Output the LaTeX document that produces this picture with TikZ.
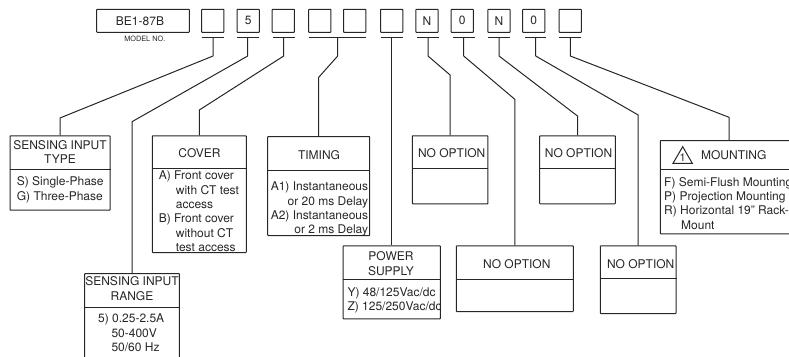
\documentclass[tikz,border=0pt]{standalone}
\usepackage{fontspec}
\setmainfont{TeX Gyre Heros}[Ligatures=ResetAll]
\colorlet{ink}{black!85}
\tikzset{
  box/.style={draw=ink,line width=1pt,rectangle,inner sep=0pt,anchor=north,rounded corners=0.6pt},
  slot/.style={box,anchor=center,minimum width=22.3pt,minimum height=23pt,font=\fontsize{12}{14.4}\selectfont,text=ink},
  bar/.style={fill=ink,rectangle,inner sep=0pt,minimum height=1pt},
  link/.style={draw=ink,line width=1pt,line join=round},
  divider/.style={draw=ink,line width=1pt},
  txt/.style={inner sep=0pt,text=ink,font=\fontsize{12}{14.4}\selectfont},
  hd/.style={txt,align=center,anchor=north},
  bl/.style={txt,align=left,anchor=north west},
  br/.style={txt,align=right,anchor=north east},
}
\begin{document}
\begin{tikzpicture}[x=1pt,y=-1pt]
\useasboundingbox (0,0) rectangle (789,356);

% model number
\node[slot,minimum width=92.6pt] (model) at (143,20.8) {};
\node[txt] (modeltxt) at (140,20.8) {BE1-87B};
\node[txt,font=\fontsize{7.3}{9}\selectfont] (modellbl) at (144.8,39.3) {MODEL NO.};

% slots
\node[slot] (s1) at (212.8,20.8) {};
\node[slot] (s2) at (248.2,20.8) {5};
\node[slot] (s3) at (283.3,20.8) {};
\node[slot] (s4) at (319.8,20.8) {};
\node[slot] (s5) at (354.7,20.8) {};
\node[slot] (s6) at (391.7,20.8) {};
\node[slot] (s7) at (427,20.8) {N};
\node[slot] (s8) at (462.2,20.8) {0};
\node[slot] (s9) at (499,20.8) {N};
\node[slot] (s10) at (533.7,20.8) {0};
\node[slot] (s11) at (570.2,20.8) {};

% bars
\node[bar,minimum width=22.3pt] (u1) at (213,37.7) {};
\node[bar,minimum width=22.3pt] (u2) at (247.7,37.7) {};
\node[bar,minimum width=22.3pt] (u3) at (283.7,37.7) {};
\node[bar,minimum width=56.7pt] (u4) at (337.7,37.7) {};
\node[bar,minimum width=22.3pt] (u5) at (391.7,37.7) {};
\node[bar,minimum width=22pt] (u6) at (428,37.7) {};
\node[bar,minimum width=22pt] (u7) at (463.7,37.7) {};
\node[bar,minimum width=22pt] (u8) at (499,37.7) {};
\node[bar,minimum width=21.3pt] (u9) at (535.7,37.7) {};
\node[bar,minimum width=22pt] (u10) at (570.3,37.7) {};

% boxes
\node[box,minimum width=100pt,minimum height=74.4pt] (type) at (60,135.3) {};
\node[box,minimum width=94pt,minimum height=116.7pt] (cover) at (199.3,135.3) {};
\node[box,minimum width=94.6pt,minimum height=95pt] (range) at (132,273) {};
\node[box,minimum width=102pt,minimum height=99pt] (timing) at (318.7,136) {};
\node[box,minimum width=75.7pt,minimum height=68pt] (no1) at (450.1,135.3) {};
\node[box,minimum width=97.3pt,minimum height=73pt] (power) at (391.7,245.3) {};
\node[box,minimum width=117pt,minimum height=65.7pt] (no2) at (514.8,245.3) {};
\node[box,minimum width=75.6pt,minimum height=68pt] (no3) at (577.5,135.3) {};
\node[box,minimum width=75.7pt,minimum height=67.7pt] (no4) at (638.2,245.3) {};
\node[box,minimum width=137.4pt,minimum height=93.3pt] (mount) at (729,140) {};

% dividers
\draw[divider] (type.west |- 0,169) -- (type.east |- 0,169);
\draw[divider] (cover.west |- 0,168.3) -- (cover.east |- 0,168.3);
\draw[divider] (range.west |- 0,307.3) -- (range.east |- 0,307.3);
\draw[divider] (timing.west |- 0,170) -- (timing.east |- 0,170);
\draw[divider] (no1.west |- 0,168) -- (no1.east |- 0,168);
\draw[divider] (power.west |- 0,279.3) -- (power.east |- 0,279.3);
\draw[divider] (no2.west |- 0,279.3) -- (no2.east |- 0,279.3);
\draw[divider] (no3.west |- 0,168.3) -- (no3.east |- 0,168.3);
\draw[divider] (no4.west |- 0,278.3) -- (no4.east |- 0,278.3);
\draw[divider] (mount.west |- 0,169.7) -- (mount.east |- 0,169.7);

% connectors
\draw[link] (u1.center) -- (213,56) -- (60,118) -- (type.north);
\draw[link] (u2.center) -- (247.7,56) -- (132,121.7) -- (range.north);
\draw[link] (u3.center) -- (283.7,56) -- (199.3,110) -- (cover.north);
\draw[link] (u4.center) -- (337.7,56) -- (318.7,77.3) -- (timing.north);
\draw[link] (u5.center) -- (power.north);
\draw[link] (u6.center) -- (428,56) -- (450.1,75) -- (no1.north);
\draw[link] (u7.center) -- (463.7,56) -- (514.8,99.3) -- (no2.north);
\draw[link] (u8.center) -- (499,56) -- (577.5,116) -- (no3.north);
\draw[link] (u9.center) -- (535.7,56) -- (638.2,115) -- (no4.north);
\draw[link] (u10.center) -- (570.3,56) -- (729,117.3) -- (mount.north);

% headers
\node[hd] (typeh) at (60,140) {SENSING INPUT\\TYPE};
\node[txt] (coverh) at (199.5,153) {COVER};
\node[hd] (rangeh) at (132,276.7) {SENSING INPUT\\RANGE};
\node[txt] (timingh) at (319,155.3) {TIMING};
\node[txt] (no1h) at (451.7,153) {NO OPTION};
\node[hd] (powerh) at (391,251.7) {POWER\\SUPPLY};
\node[txt] (no2h) at (516.8,264) {NO OPTION};
\node[txt] (no3h) at (578.5,153) {NO OPTION};
\node[txt] (no4h) at (640.7,264) {NO OPTION};
\node[txt] (mounth) at (733.8,155.3) {MOUNTING};
\draw[draw=ink,line width=1pt,line join=miter] (673,163.3) -- (682.7,146.7) -- (692.3,163.3) -- cycle;
\node[txt,font=\fontsize{11}{12}\selectfont] (warn) at (682.7,157.3) {1};

% bodies
\node[bl] (typeb) at (16.7,176.7) {S) Single-Phase\\G) Three-Phase};
\node[bl] (coverb) at (158.7,170.7) {A) Front cover\\\hspace*{17pt}with CT test\\\hspace*{17pt}access\\B) Front cover\\\hspace*{17pt}without CT\\\hspace*{17pt}test access};
\node[bl] (rangeb) at (98,314) {5) 0.25-2.5A\\\hspace*{13.3pt}50-400V\\\hspace*{13.3pt}50/60 Hz};
\node[br] (timingb) at (368.3,181.7) {A1) Instantaneous\\or 20 ms Delay\\A2) Instantaneous\\or 2 ms Delay};
\node[bl] (powerb) at (347.3,287.3) {Y) 48/125Vac/dc\\Z) 125/250Vac/dc};
\node[bl] (mountb) at (664,177) {F) Semi-Flush Mounting\\P) Projection Mounting\\R) Horizontal 19" Rack-\\\hspace*{17pt}Mount};
\end{tikzpicture}
\end{document}
